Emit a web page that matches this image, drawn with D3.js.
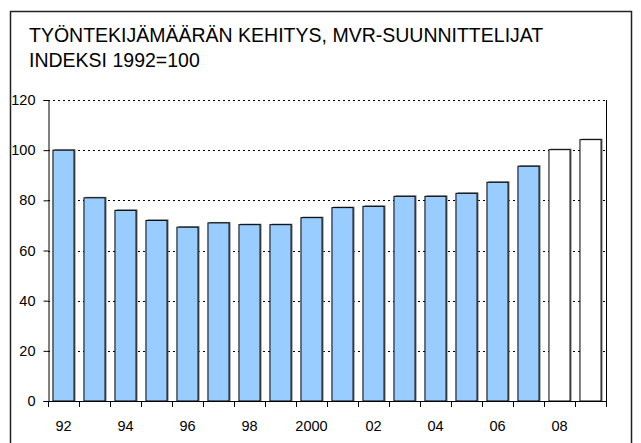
<!DOCTYPE html>
<html>
<head>
<meta charset="utf-8">
<script src="https://cdn.jsdelivr.net/npm/d3@7"></script>
<style>
  body { margin: 0; background: #fff; }
  svg { display: block; font-family: "Liberation Sans", Arial, sans-serif; }
</style>
</head>
<body>
<svg id="canvas" width="641" height="443"></svg>
<script>
let years = ['1992','1993','1994','1995','1996','1997','1998','1999','2000','2001','2002','2003','2004','2005','2006','2007','2008','2009']
let values = [100, 81, 76, 72, 69.3, 71, 70.3, 70.3, 73.1, 77.1, 77.6, 81.6, 81.6, 82.8, 87.2, 93.6, 100.2, 104.2]
let forecast = [false, false, false, false, false, false, false, false, false, false, false, false, false, false, false, false, true, true]
let xLabels = ['92', '', '94', '', '96', '', '98', '', '2000', '', '02', '', '04', '', '06', '', '08', '']
let yTicks = [0, 20, 40, 60, 80, 100, 120]
let titleLines = ['TYÖNTEKIJÄMÄÄRÄN KEHITYS, MVR-SUUNNITTELIJAT', 'INDEKSI 1992=100']

let canvas = d3.select('#canvas')

let plotLeft = 48, plotRight = 606, plotTop = 100, plotBottom = 401

// outer frame
canvas.append('rect')
    .attr('x', 10.5).attr('y', 11.5)
    .attr('width', 621).attr('height', 440)
    .attr('fill', 'none')
    .attr('stroke', '#222')
    .attr('stroke-width', 1.5)

canvas.selectAll('text.title')
    .data(titleLines)
    .enter()
    .append('text')
    .attr('class', 'title')
    .attr('x', 29)
    .attr('y', (d, i) => 42 + i * 25)
    .attr('font-size', 19.5)
    .attr('fill', '#000')
    .text(d => d)

let xScale = d3.scaleBand()
    .domain(years)
    .range([plotLeft, plotRight])
    .paddingInner(0.32)
    .paddingOuter(0.16)

let yScale = d3.scaleLinear()
    .domain([0, 120])
    .range([plotBottom, plotTop])

// dotted gridlines
canvas.selectAll('line.grid')
    .data(yTicks.filter(d => d > 0))
    .enter()
    .append('line')
    .attr('class', 'grid')
    .attr('x1', plotLeft).attr('x2', plotRight)
    .attr('y1', d => Math.round(yScale(d)) + 0.5)
    .attr('y2', d => Math.round(yScale(d)) + 0.5)
    .attr('stroke', '#000')
    .attr('stroke-dasharray', '2,3')

// right border of plot area
canvas.append('line')
    .attr('x1', plotRight + 0.5).attr('x2', plotRight + 0.5)
    .attr('y1', plotTop).attr('y2', plotBottom)
    .attr('stroke', '#000')

// bar shadows
canvas.selectAll('rect.shadow')
    .data(values)
    .enter()
    .append('rect')
    .attr('class', 'shadow')
    .attr('x', (d, i) => xScale(years[i]) + 1.5)
    .attr('y', d => yScale(d) - 1)
    .attr('width', xScale.bandwidth())
    .attr('height', d => plotBottom - yScale(d) + 1)
    .attr('fill', '#777')

canvas.selectAll('rect.bar')
    .data(values)
    .enter()
    .append('rect')
    .attr('class', 'bar')
    .attr('x', (d, i) => xScale(years[i]))
    .attr('y', d => yScale(d))
    .attr('width', xScale.bandwidth())
    .attr('height', d => plotBottom - yScale(d))
    .attr('fill', (d, i) => forecast[i] ? '#ffffff' : '#99ccff')
    .attr('stroke', '#000')
    .attr('stroke-width', 1)

// y axis
let yAxis = d3.axisLeft(yScale)
    .tickValues(yTicks)
    .tickSize(5)
    .tickPadding(8)

let yG = canvas.append('g')
    .attr('transform', `translate(${plotLeft + 0.5},0)`)
    .call(yAxis)
yG.select('.domain').attr('stroke', '#000')
yG.selectAll('text').attr('font-size', 14.5).attr('font-family', '"Liberation Sans", Arial, sans-serif').attr('fill', '#000')

// x axis: ticks at category boundaries
let bounds = years.map(y => xScale(y) - xScale.step() * xScale.paddingInner() / 2)
bounds.push(plotRight)
canvas.append('line')
    .attr('x1', plotLeft).attr('x2', plotRight + 1)
    .attr('y1', plotBottom + 0.5).attr('y2', plotBottom + 0.5)
    .attr('stroke', '#000')
canvas.selectAll('line.xtick')
    .data(bounds)
    .enter()
    .append('line')
    .attr('class', 'xtick')
    .attr('x1', d => Math.round(d) + 0.5).attr('x2', d => Math.round(d) + 0.5)
    .attr('y1', plotBottom).attr('y2', plotBottom + 6)
    .attr('stroke', '#000')

canvas.selectAll('text.xlabel')
    .data(xLabels)
    .enter()
    .append('text')
    .attr('class', 'xlabel')
    .attr('x', (d, i) => xScale(years[i]) + xScale.bandwidth() / 2)
    .attr('y', 431)
    .attr('text-anchor', 'middle')
    .attr('font-size', 14.5)
    .text(d => d)
</script>
</body>
</html>
